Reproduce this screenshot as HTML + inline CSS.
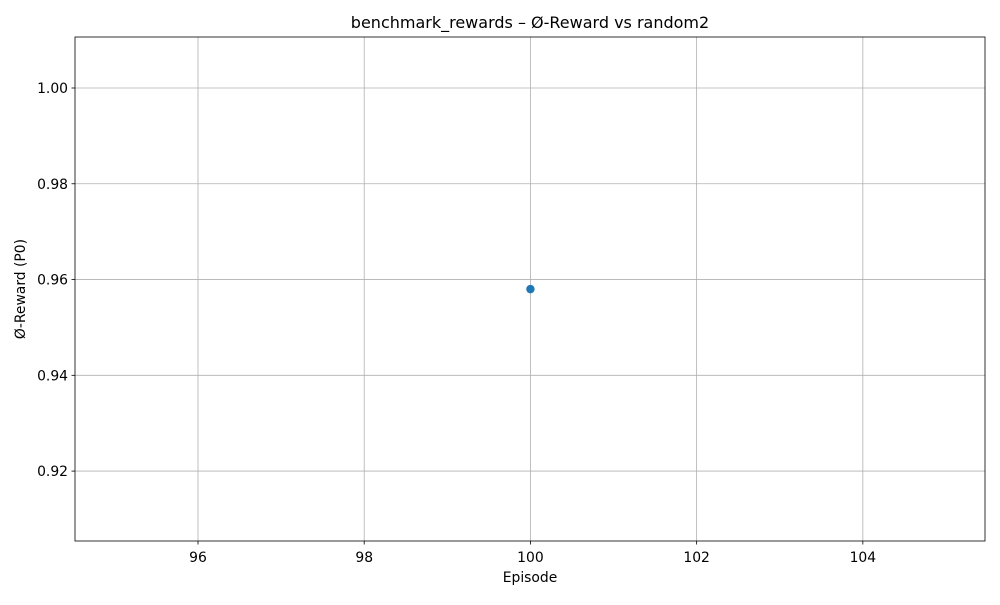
<!DOCTYPE html>
<html><head><meta charset="utf-8"><style>
body{margin:0;background:#fff;font-family:"Liberation Sans","DejaVu Sans",sans-serif;}
svg text{font-family:"DejaVu Sans","Liberation Sans",sans-serif;}
</style></head><body>
<svg id="chart" width="1000" height="600"></svg>
<script>
const xTicks=[96,98,100,102,104];
const yTicks=[0.92,0.94,0.96,0.98,1.00];
const episodes=[100];
const rewards=[0.958];
const xDomain=[94.52,105.47];
const yDomain=[0.9054,1.01065];
const L=75,R=985,T=37,B=541;
const sx=v=>L+(v-xDomain[0])/(xDomain[1]-xDomain[0])*(R-L);
const sy=v=>B-(v-yDomain[0])/(yDomain[1]-yDomain[0])*(B-T);
const svg=document.getElementById('chart');
const NS='http://www.w3.org/2000/svg';
function mk(tag,attrs,parent){const e=document.createElementNS(NS,tag);for(const k in attrs)e.setAttribute(k,attrs[k]);(parent||svg).appendChild(e);return e;}
xTicks.forEach(v=>{
  const g=mk('g',{});
  
  
  mk('line',{x1:sx(v),x2:sx(v),y1:T,y2:B,stroke:'#b0b0b0','stroke-width':0.8},g);
  mk('line',{x1:sx(v),x2:sx(v),y1:B,y2:B+3.5,stroke:'#000','stroke-width':0.8},g);
  const t=mk('text',{x:sx(v),y:B+21,'text-anchor':'middle','font-size':13.9},g);t.textContent=v;
});
yTicks.forEach(v=>{
  const g=mk('g',{});
  
  
  mk('line',{x1:L,x2:R,y1:sy(v),y2:sy(v),stroke:'#b0b0b0','stroke-width':0.8},g);
  mk('line',{x1:L-3.5,x2:L,y1:sy(v),y2:sy(v),stroke:'#000','stroke-width':0.8},g);
  const t=mk('text',{x:L-7,y:sy(v)+5,'text-anchor':'end','font-size':13.9},g);t.textContent=v.toFixed(2);
});
const frame=mk('rect',{x:L,y:T,width:R-L,height:B-T,fill:'none',stroke:'#000','stroke-width':0.8});


episodes.forEach((e,i)=>{
  const c=mk('circle',{cx:sx(e),cy:sy(rewards[i]),r:4.2,fill:'#1f77b4'});
  
  
});
const ti=mk('text',{x:(L+R)/2,y:T-9,'text-anchor':'middle','font-size':16});ti.textContent='benchmark_rewards – Ø-Reward vs random2';


const xl=mk('text',{x:(L+R)/2,y:582,'text-anchor':'middle','font-size':13.9});xl.textContent='Episode';


const yl=mk('text',{x:0,y:0,'text-anchor':'middle','font-size':13.9,transform:'translate(25,'+((T+B)/2)+') rotate(-90)'});yl.textContent='Ø-Reward (P0)';


</script>
</body></html>
